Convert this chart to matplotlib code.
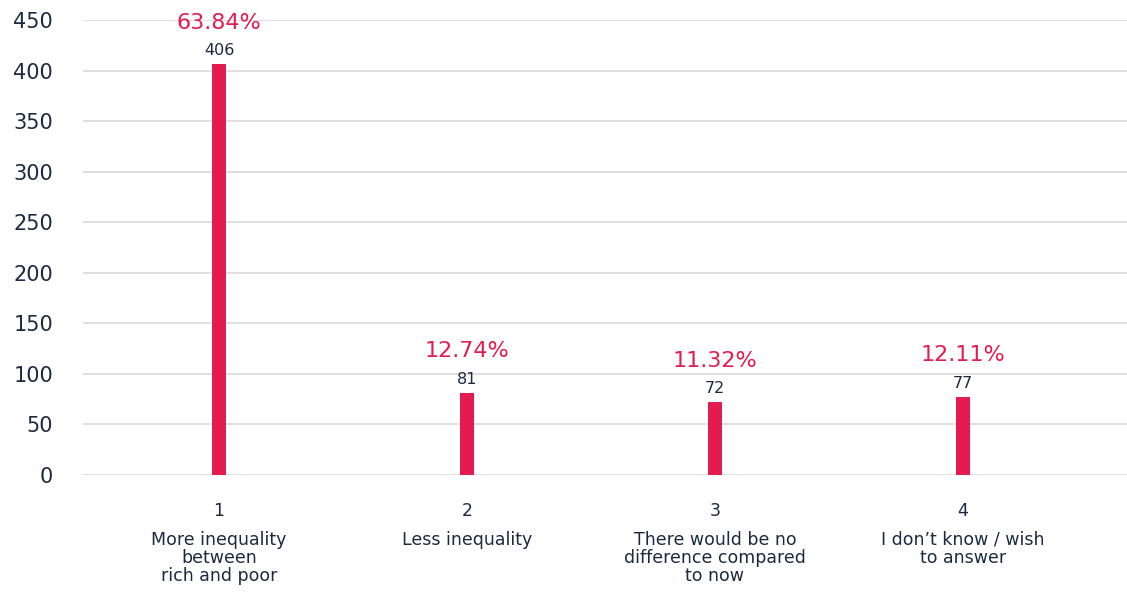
import matplotlib
matplotlib.use('Agg')
import matplotlib.pyplot as plt
import numpy as np

plt.rcParams['font.family'] = ['DejaVu Sans']

codes = [1, 2, 3, 4]
answers = ['More inequality\nbetween\nrich and poor',
           'Less inequality',
           'There would be no\ndifference compared\nto now',
           'I don\u2019t know / wish\nto answer']
counts = np.array([406, 81, 72, 77])
shares = counts / counts.sum() * 100

navy = '#1b2a41'
red = '#e31b4f'

fig = plt.figure(figsize=[11.27, 5.92], dpi=100)
ax = fig.add_axes([0.0737, 0.1976, 0.9263, 0.7686])

ax.bar(codes, counts, width=0.0565, color=red, zorder=3)

ax.set_xlim(0.452, 4.662)
ax.set_ylim(0, 450)
ax.set_yticks(np.arange(0, 451, 50))
ax.set_xticks([])
ax.grid(axis='y', color='#d6d6d6', linewidth=1.1, zorder=0)
ax.set_axisbelow(True)
for s in ax.spines.values():
    s.set_visible(False)
ax.tick_params(axis='y', length=0, pad=21.5, labelsize=15, labelcolor=navy)

# counts and shares above each bar
for x, n, p in zip(codes, counts, shares):
    ax.annotate(str(n), (x, n), xytext=(0, 10), textcoords='offset points',
                ha='center', va='center', fontsize=11.5, color=navy)
    ax.annotate('{:.2f}%'.format(p), (x, n), xytext=(0, 30), textcoords='offset points',
                ha='center', va='center', fontsize=16, color=red)

# answer code and text under each bar
for x, a in zip(codes, answers):
    ax.annotate(str(x), (x, 0), xytext=(0, -26), textcoords='offset points',
                ha='center', va='center', fontsize=12.5, color=navy,
                annotation_clip=False)
    ax.annotate(a, (x, 0), xytext=(0, -40), textcoords='offset points',
                ha='center', va='top', fontsize=12.5, color=navy, linespacing=1.0,
                annotation_clip=False)

plt.savefig('out.png', dpi=100)
